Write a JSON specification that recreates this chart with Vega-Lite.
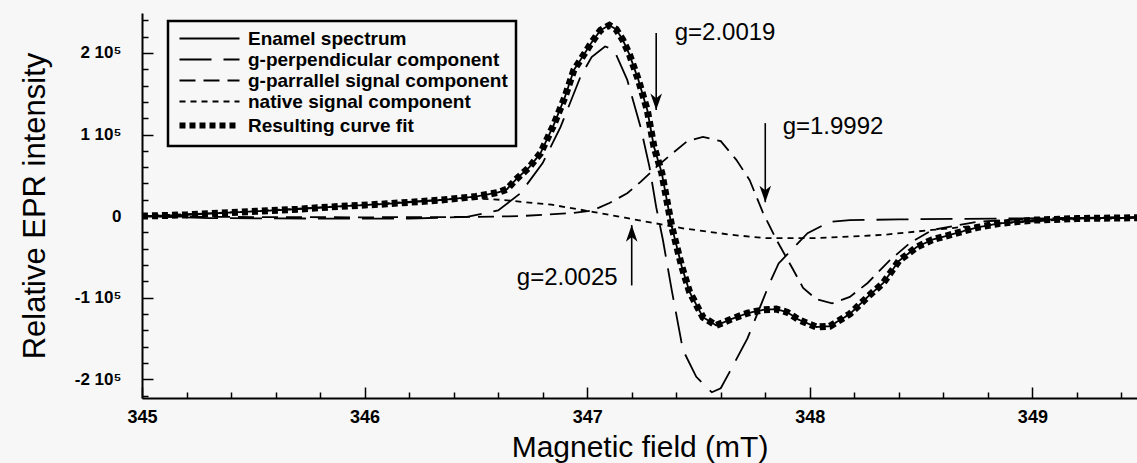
{
  "$schema": "https://vega.github.io/schema/vega-lite/v6.json",
  "width": 995,
  "height": 385,
  "autosize": "none",
  "padding": {"left": 142, "right": 0, "top": 13, "bottom": 65},
  "background": "#f7f7f7",
  "config": {"view": {"stroke": null}, "font": "Liberation Sans"},
  "datasets": {
    "curves": [
      {"series": "Enamel spectrum", "B": 345.0, "I": 0},
      {"series": "Enamel spectrum", "B": 345.2, "I": 1500},
      {"series": "Enamel spectrum", "B": 345.44, "I": 5000},
      {"series": "Enamel spectrum", "B": 345.7, "I": 8500},
      {"series": "Enamel spectrum", "B": 345.89, "I": 12000},
      {"series": "Enamel spectrum", "B": 346.1, "I": 15000},
      {"series": "Enamel spectrum", "B": 346.34, "I": 19600},
      {"series": "Enamel spectrum", "B": 346.5, "I": 24000},
      {"series": "Enamel spectrum", "B": 346.6, "I": 29000},
      {"series": "Enamel spectrum", "B": 346.64, "I": 33000},
      {"series": "Enamel spectrum", "B": 346.68, "I": 45000},
      {"series": "Enamel spectrum", "B": 346.74, "I": 60000},
      {"series": "Enamel spectrum", "B": 346.79, "I": 77000},
      {"series": "Enamel spectrum", "B": 346.85, "I": 112000},
      {"series": "Enamel spectrum", "B": 346.9, "I": 146000},
      {"series": "Enamel spectrum", "B": 346.94, "I": 179000},
      {"series": "Enamel spectrum", "B": 346.99, "I": 200000},
      {"series": "Enamel spectrum", "B": 347.02, "I": 213000},
      {"series": "Enamel spectrum", "B": 347.06, "I": 228000},
      {"series": "Enamel spectrum", "B": 347.1, "I": 234000},
      {"series": "Enamel spectrum", "B": 347.13, "I": 229000},
      {"series": "Enamel spectrum", "B": 347.16, "I": 216000},
      {"series": "Enamel spectrum", "B": 347.19, "I": 198000},
      {"series": "Enamel spectrum", "B": 347.23, "I": 167000},
      {"series": "Enamel spectrum", "B": 347.27, "I": 130000},
      {"series": "Enamel spectrum", "B": 347.3, "I": 85000},
      {"series": "Enamel spectrum", "B": 347.335, "I": 53000},
      {"series": "Enamel spectrum", "B": 347.38, "I": -13000},
      {"series": "Enamel spectrum", "B": 347.425, "I": -62000},
      {"series": "Enamel spectrum", "B": 347.46, "I": -93000},
      {"series": "Enamel spectrum", "B": 347.52, "I": -124000},
      {"series": "Enamel spectrum", "B": 347.58, "I": -134000},
      {"series": "Enamel spectrum", "B": 347.65, "I": -126000},
      {"series": "Enamel spectrum", "B": 347.72, "I": -119000},
      {"series": "Enamel spectrum", "B": 347.79, "I": -115000},
      {"series": "Enamel spectrum", "B": 347.85, "I": -114000},
      {"series": "Enamel spectrum", "B": 347.9, "I": -118000},
      {"series": "Enamel spectrum", "B": 347.95, "I": -127000},
      {"series": "Enamel spectrum", "B": 348.03, "I": -136000},
      {"series": "Enamel spectrum", "B": 348.09, "I": -135000},
      {"series": "Enamel spectrum", "B": 348.18, "I": -120000},
      {"series": "Enamel spectrum", "B": 348.26, "I": -99000},
      {"series": "Enamel spectrum", "B": 348.33, "I": -82000},
      {"series": "Enamel spectrum", "B": 348.4, "I": -55000},
      {"series": "Enamel spectrum", "B": 348.48, "I": -38000},
      {"series": "Enamel spectrum", "B": 348.55, "I": -29000},
      {"series": "Enamel spectrum", "B": 348.63, "I": -23000},
      {"series": "Enamel spectrum", "B": 348.75, "I": -14000},
      {"series": "Enamel spectrum", "B": 348.85, "I": -9000},
      {"series": "Enamel spectrum", "B": 349.0, "I": -5000},
      {"series": "Enamel spectrum", "B": 349.2, "I": -3000},
      {"series": "Enamel spectrum", "B": 349.47, "I": -2000},

      {"series": "g-perpendicular component", "B": 345.0, "I": 0},
      {"series": "g-perpendicular component", "B": 345.3, "I": -2500},
      {"series": "g-perpendicular component", "B": 345.8, "I": -3000},
      {"series": "g-perpendicular component", "B": 346.2, "I": -3000},
      {"series": "g-perpendicular component", "B": 346.46, "I": -1000},
      {"series": "g-perpendicular component", "B": 346.6, "I": 7000},
      {"series": "g-perpendicular component", "B": 346.7, "I": 28000},
      {"series": "g-perpendicular component", "B": 346.8, "I": 65000},
      {"series": "g-perpendicular component", "B": 346.88, "I": 109000},
      {"series": "g-perpendicular component", "B": 346.97, "I": 171000},
      {"series": "g-perpendicular component", "B": 347.02, "I": 195000},
      {"series": "g-perpendicular component", "B": 347.08, "I": 208000},
      {"series": "g-perpendicular component", "B": 347.12, "I": 204000},
      {"series": "g-perpendicular component", "B": 347.18, "I": 167000},
      {"series": "g-perpendicular component", "B": 347.24, "I": 109000},
      {"series": "g-perpendicular component", "B": 347.28, "I": 60000},
      {"series": "g-perpendicular component", "B": 347.31, "I": 11000},
      {"series": "g-perpendicular component", "B": 347.34, "I": -29000},
      {"series": "g-perpendicular component", "B": 347.38, "I": -91000},
      {"series": "g-perpendicular component", "B": 347.43, "I": -164000},
      {"series": "g-perpendicular component", "B": 347.49, "I": -197000},
      {"series": "g-perpendicular component", "B": 347.56, "I": -216000},
      {"series": "g-perpendicular component", "B": 347.6, "I": -211000},
      {"series": "g-perpendicular component", "B": 347.64, "I": -191000},
      {"series": "g-perpendicular component", "B": 347.72, "I": -150000},
      {"series": "g-perpendicular component", "B": 347.82, "I": -82000},
      {"series": "g-perpendicular component", "B": 347.86, "I": -58000},
      {"series": "g-perpendicular component", "B": 347.99, "I": -21000},
      {"series": "g-perpendicular component", "B": 348.09, "I": -7000},
      {"series": "g-perpendicular component", "B": 348.18, "I": -5000},
      {"series": "g-perpendicular component", "B": 348.4, "I": -4000},
      {"series": "g-perpendicular component", "B": 348.85, "I": -3000},
      {"series": "g-perpendicular component", "B": 349.47, "I": -2000},

      {"series": "g-parrallel signal component", "B": 345.0, "I": 0},
      {"series": "g-parrallel signal component", "B": 345.3, "I": -1000},
      {"series": "g-parrallel signal component", "B": 346.0, "I": -1500},
      {"series": "g-parrallel signal component", "B": 346.5, "I": -1000},
      {"series": "g-parrallel signal component", "B": 346.7, "I": 0},
      {"series": "g-parrallel signal component", "B": 346.94, "I": 4000},
      {"series": "g-parrallel signal component", "B": 347.025, "I": 7000},
      {"series": "g-parrallel signal component", "B": 347.1, "I": 16000},
      {"series": "g-parrallel signal component", "B": 347.18, "I": 28000},
      {"series": "g-parrallel signal component", "B": 347.24, "I": 42000},
      {"series": "g-parrallel signal component", "B": 347.31, "I": 60000},
      {"series": "g-parrallel signal component", "B": 347.37, "I": 74000},
      {"series": "g-parrallel signal component", "B": 347.45, "I": 92000},
      {"series": "g-parrallel signal component", "B": 347.52, "I": 97000},
      {"series": "g-parrallel signal component", "B": 347.6, "I": 92000},
      {"series": "g-parrallel signal component", "B": 347.67, "I": 69000},
      {"series": "g-parrallel signal component", "B": 347.73, "I": 44000},
      {"series": "g-parrallel signal component", "B": 347.79, "I": 4000},
      {"series": "g-parrallel signal component", "B": 347.85, "I": -29000},
      {"series": "g-parrallel signal component", "B": 347.92, "I": -63000},
      {"series": "g-parrallel signal component", "B": 347.97, "I": -88000},
      {"series": "g-parrallel signal component", "B": 348.03, "I": -102000},
      {"series": "g-parrallel signal component", "B": 348.1, "I": -107000},
      {"series": "g-parrallel signal component", "B": 348.18, "I": -99000},
      {"series": "g-parrallel signal component", "B": 348.26, "I": -82000},
      {"series": "g-parrallel signal component", "B": 348.36, "I": -54000},
      {"series": "g-parrallel signal component", "B": 348.45, "I": -33000},
      {"series": "g-parrallel signal component", "B": 348.55, "I": -17000},
      {"series": "g-parrallel signal component", "B": 348.75, "I": -7000},
      {"series": "g-parrallel signal component", "B": 349.0, "I": -3000},
      {"series": "g-parrallel signal component", "B": 349.47, "I": -1000},

      {"series": "native signal component", "B": 345.0, "I": 0},
      {"series": "native signal component", "B": 345.44, "I": 5000},
      {"series": "native signal component", "B": 345.89, "I": 12000},
      {"series": "native signal component", "B": 346.34, "I": 20000},
      {"series": "native signal component", "B": 346.47, "I": 22000},
      {"series": "native signal component", "B": 346.61, "I": 20000},
      {"series": "native signal component", "B": 346.84, "I": 14000},
      {"series": "native signal component", "B": 347.03, "I": 5000},
      {"series": "native signal component", "B": 347.17, "I": -2000},
      {"series": "native signal component", "B": 347.43, "I": -15000},
      {"series": "native signal component", "B": 347.65, "I": -23000},
      {"series": "native signal component", "B": 347.8, "I": -27000},
      {"series": "native signal component", "B": 348.03, "I": -27000},
      {"series": "native signal component", "B": 348.33, "I": -23000},
      {"series": "native signal component", "B": 348.55, "I": -17000},
      {"series": "native signal component", "B": 348.85, "I": -9000},
      {"series": "native signal component", "B": 349.1, "I": -5000},
      {"series": "native signal component", "B": 349.47, "I": -2000},

      {"series": "Resulting curve fit", "B": 345.0, "I": 0},
      {"series": "Resulting curve fit", "B": 345.2, "I": 1500},
      {"series": "Resulting curve fit", "B": 345.44, "I": 5000},
      {"series": "Resulting curve fit", "B": 345.7, "I": 8500},
      {"series": "Resulting curve fit", "B": 345.89, "I": 12000},
      {"series": "Resulting curve fit", "B": 346.1, "I": 15000},
      {"series": "Resulting curve fit", "B": 346.34, "I": 19600},
      {"series": "Resulting curve fit", "B": 346.5, "I": 24000},
      {"series": "Resulting curve fit", "B": 346.6, "I": 29000},
      {"series": "Resulting curve fit", "B": 346.64, "I": 33000},
      {"series": "Resulting curve fit", "B": 346.68, "I": 45000},
      {"series": "Resulting curve fit", "B": 346.74, "I": 60000},
      {"series": "Resulting curve fit", "B": 346.79, "I": 77000},
      {"series": "Resulting curve fit", "B": 346.85, "I": 112000},
      {"series": "Resulting curve fit", "B": 346.9, "I": 146000},
      {"series": "Resulting curve fit", "B": 346.94, "I": 179000},
      {"series": "Resulting curve fit", "B": 346.99, "I": 200000},
      {"series": "Resulting curve fit", "B": 347.02, "I": 213000},
      {"series": "Resulting curve fit", "B": 347.06, "I": 228000},
      {"series": "Resulting curve fit", "B": 347.1, "I": 234000},
      {"series": "Resulting curve fit", "B": 347.13, "I": 229000},
      {"series": "Resulting curve fit", "B": 347.16, "I": 216000},
      {"series": "Resulting curve fit", "B": 347.19, "I": 198000},
      {"series": "Resulting curve fit", "B": 347.23, "I": 167000},
      {"series": "Resulting curve fit", "B": 347.27, "I": 130000},
      {"series": "Resulting curve fit", "B": 347.3, "I": 85000},
      {"series": "Resulting curve fit", "B": 347.335, "I": 53000},
      {"series": "Resulting curve fit", "B": 347.38, "I": -13000},
      {"series": "Resulting curve fit", "B": 347.425, "I": -62000},
      {"series": "Resulting curve fit", "B": 347.46, "I": -93000},
      {"series": "Resulting curve fit", "B": 347.52, "I": -124000},
      {"series": "Resulting curve fit", "B": 347.58, "I": -134000},
      {"series": "Resulting curve fit", "B": 347.65, "I": -126000},
      {"series": "Resulting curve fit", "B": 347.72, "I": -119000},
      {"series": "Resulting curve fit", "B": 347.79, "I": -115000},
      {"series": "Resulting curve fit", "B": 347.85, "I": -114000},
      {"series": "Resulting curve fit", "B": 347.9, "I": -118000},
      {"series": "Resulting curve fit", "B": 347.95, "I": -127000},
      {"series": "Resulting curve fit", "B": 348.03, "I": -136000},
      {"series": "Resulting curve fit", "B": 348.09, "I": -135000},
      {"series": "Resulting curve fit", "B": 348.18, "I": -120000},
      {"series": "Resulting curve fit", "B": 348.26, "I": -99000},
      {"series": "Resulting curve fit", "B": 348.33, "I": -82000},
      {"series": "Resulting curve fit", "B": 348.4, "I": -55000},
      {"series": "Resulting curve fit", "B": 348.48, "I": -38000},
      {"series": "Resulting curve fit", "B": 348.55, "I": -29000},
      {"series": "Resulting curve fit", "B": 348.63, "I": -23000},
      {"series": "Resulting curve fit", "B": 348.75, "I": -14000},
      {"series": "Resulting curve fit", "B": 348.85, "I": -9000},
      {"series": "Resulting curve fit", "B": 349.0, "I": -5000},
      {"series": "Resulting curve fit", "B": 349.2, "I": -3000},
      {"series": "Resulting curve fit", "B": 349.47, "I": -2000}
    ],
    "arrows": [
      {"label": "g=2.0019", "x": 347.31, "y_tail": 224500, "y_tip": 130000, "dir": "down", "tx": 347.393, "ty": 224500},
      {"label": "g=1.9992", "x": 347.8, "y_tail": 114000, "y_tip": 17000, "dir": "down", "tx": 347.878, "ty": 109000},
      {"label": "g=2.0025", "x": 347.2, "y_tail": -85000, "y_tip": -11000, "dir": "up", "tx": 346.684, "ty": -76000}
    ]
  },
  "layer": [
    {
      "data": {"name": "curves"},
      "mark": {"type": "line", "color": "black", "strokeCap": "butt"},
      "encoding": {
        "x": {
          "field": "B", "type": "quantitative",
          "scale": {"domain": [345, 349.47], "nice": false, "zero": false},
          "axis": {
            "title": "Magnetic field (mT)",
            "values": [345, 345.2, 345.4, 345.6, 345.8, 346, 346.2, 346.4, 346.6, 346.8, 347, 347.2, 347.4, 347.6, 347.8, 348, 348.2, 348.4, 348.6, 348.8, 349, 349.2, 349.4],
            "tickCount": 100,
            "labelExpr": "abs(datum.value - round(datum.value)) < 0.01 ? format(datum.value, 'd') : ''",
            "grid": false,
            "domainColor": "black", "domainWidth": 2,
            "tickColor": "black", "tickWidth": 1.5,
            "tickSize": {"condition": {"test": "abs(datum.value - round(datum.value)) < 0.01", "value": -11}, "value": -6},
            "labelFont": "Liberation Sans", "labelFontWeight": "bold", "labelFontSize": 18, "labelColor": "black",
            "labelPadding": 21, "labelFlush": false, "labelOverlap": false,
            "titleFont": "Liberation Sans", "titleFontWeight": "normal", "titleFontSize": 30, "titleColor": "black", "titlePadding": 1
          }
        },
        "y": {
          "field": "I", "type": "quantitative",
          "scale": {"domain": [-223000, 249000], "nice": false},
          "axis": {
            "title": "Relative EPR intensity",
            "values": [-220000, -200000, -180000, -160000, -140000, -120000, -100000, -80000, -60000, -40000, -20000, 0, 20000, 40000, 60000, 80000, 100000, 120000, 140000, 160000, 180000, 200000, 220000, 240000],
            "tickCount": 100,
            "labelExpr": "datum.value % 100000 === 0 ? (datum.value === 0 ? '0' : (datum.value / 100000) + ' 10⁵') : ''",
            "grid": false,
            "domainColor": "black", "domainWidth": 2,
            "tickColor": "black", "tickWidth": 1.5,
            "tickSize": {"condition": {"test": "datum.value % 100000 === 0", "value": -11}, "value": -6},
            "labelFont": "Liberation Sans", "labelFontWeight": "bold", "labelFontSize": 17, "labelColor": "black",
            "labelPadding": 32, "labelOverlap": false, "labelFlush": false,
            "titleFont": "Liberation Sans", "titleFontWeight": "normal", "titleFontSize": 31, "titleColor": "black", "titlePadding": 23
          }
        },
        "strokeDash": {
          "field": "series", "type": "nominal",
          "scale": {
            "domain": ["Enamel spectrum", "g-perpendicular component", "g-parrallel signal component", "native signal component", "Resulting curve fit"],
            "range": [[1, 0], [32, 12], [16, 8], [6, 5], [6, 4]]
          },
          "legend": {
            "title": null, "orient": "none", "legendX": 26, "legendY": 8,
            "symbolType": "stroke", "symbolSize": 3600, "symbolStrokeColor": "black", "symbolStrokeWidth": 2,
            "symbolOffset": 24,
            "labelFont": "Liberation Sans", "labelFontWeight": "bold", "labelFontSize": 19, "labelColor": "black",
            "labelLimit": 400, "labelOffset": 29,
            "strokeColor": "black", "padding": 8, "rowPadding": 1, "fillColor": "#f7f7f7",
            "encode": {
              "symbols": {"update": {"strokeWidth": {"signal": "datum.value === 'Resulting curve fit' ? 6 : 2"}}},
              "legend": {"update": {"strokeWidth": {"value": 2.5}}}
            }
          }
        },
        "strokeWidth": {"condition": {"test": "datum.series === 'Resulting curve fit'", "value": 7}, "value": 1.8}
      }
    },
    {
      "data": {"name": "arrows"},
      "mark": {"type": "rule", "color": "black", "strokeWidth": 1.6},
      "encoding": {
        "x": {"field": "x", "type": "quantitative"},
        "y": {"field": "y_tail", "type": "quantitative"},
        "y2": {"field": "y_tip"}
      }
    },
    {
      "data": {"name": "arrows"},
      "mark": {"type": "point", "filled": true, "color": "black", "opacity": 1, "size": 1100, "strokeWidth": 0},
      "encoding": {
        "x": {"field": "x", "type": "quantitative"},
        "y": {"field": "y_tip", "type": "quantitative"},
        "shape": {
          "field": "dir", "type": "nominal",
          "scale": {"domain": ["down", "up"], "range": ["M-0.35,-1L0,0L0.35,-1L0,-0.72Z", "M-0.35,1L0,0L0.35,1L0,0.72Z"]},
          "legend": null
        }
      }
    },
    {
      "data": {"name": "arrows"},
      "mark": {"type": "text", "align": "left", "baseline": "middle", "font": "Liberation Sans", "fontSize": 24, "color": "black"},
      "encoding": {
        "x": {"field": "tx", "type": "quantitative"},
        "y": {"field": "ty", "type": "quantitative"},
        "text": {"field": "label"}
      }
    }
  ]
}
